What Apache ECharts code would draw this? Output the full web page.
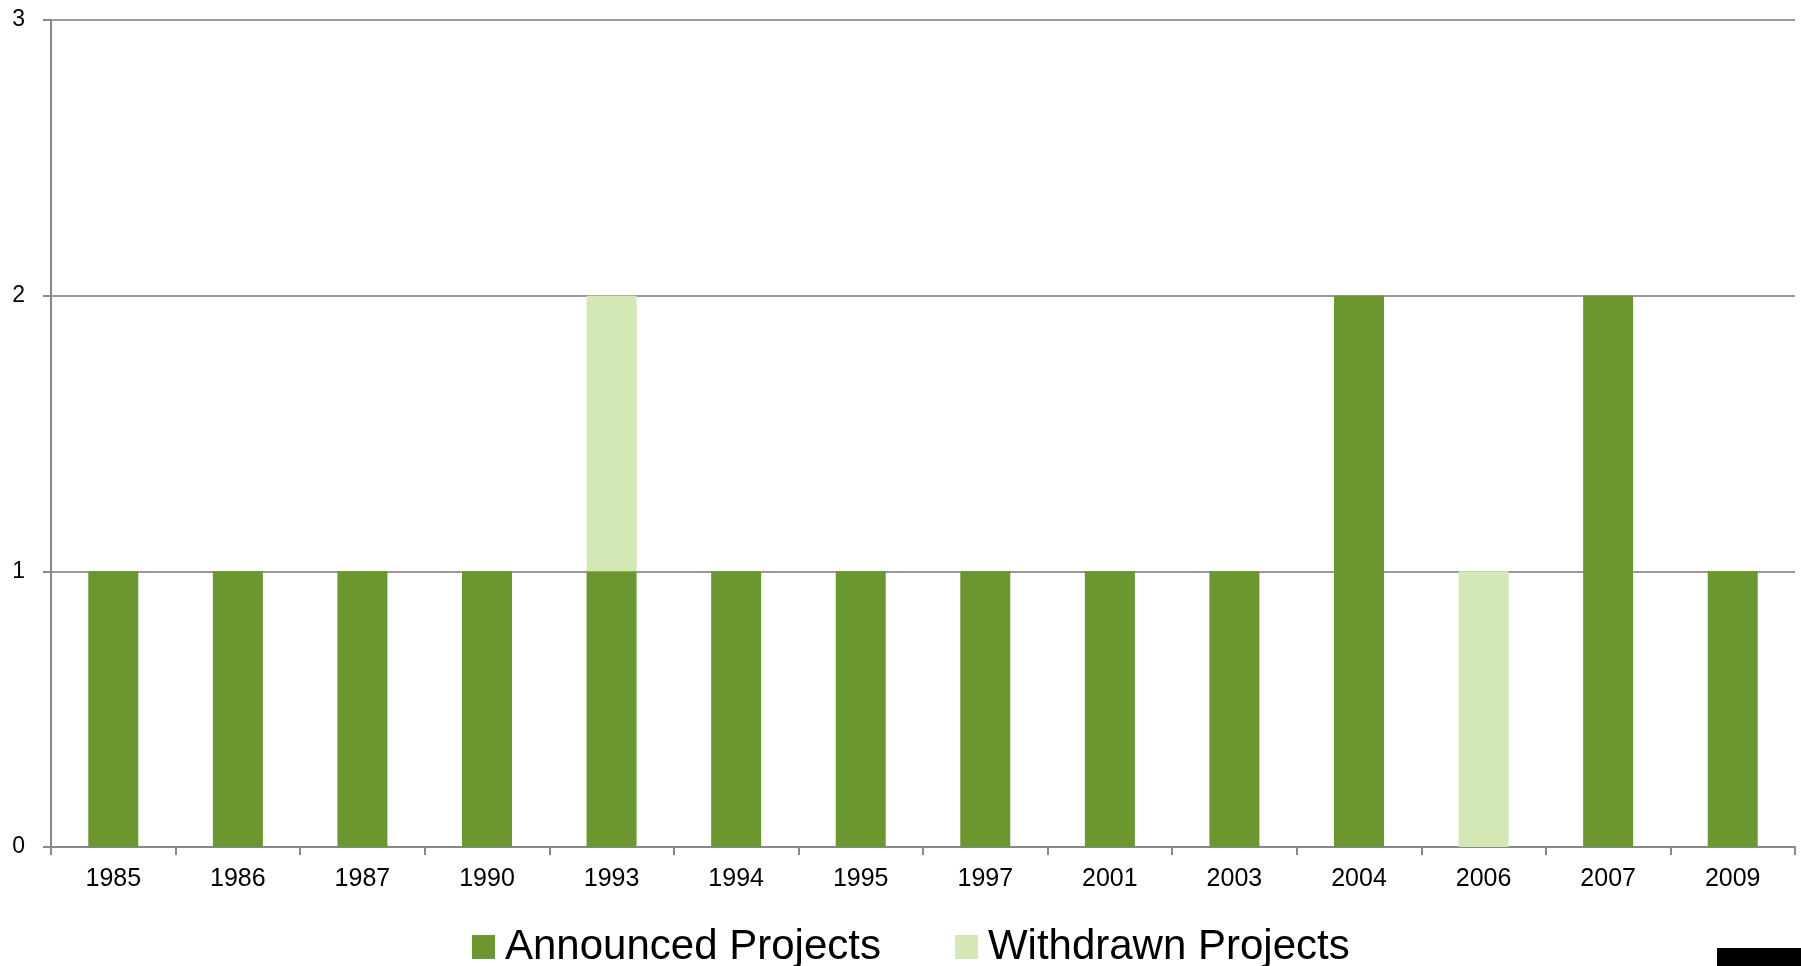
<!DOCTYPE html>
<html><head><meta charset="utf-8">
<script src="https://cdn.jsdelivr.net/npm/echarts@6/dist/echarts.min.js"></script>
<style>html,body{margin:0;padding:0;background:#fff}#c{width:1801px;height:966px}</style>
</head><body><div id="c"></div>
<script>
const years = ['1985','1986','1987','1990','1993','1994','1995','1997','2001','2003','2004','2006','2007','2009'];
const announced = [1,1,1,1,1,1,1,1,1,1,2,0,2,1];
const withdrawn = [0,0,0,0,1,0,0,0,0,0,0,1,0,0];
const yTicks = [0,1,2,3];

const chart = echarts.init(document.getElementById('c'));
chart.setOption({
  animation: false,
  grid: {left: 51, top: 20, right: 6, bottom: 119, containLabel: false, outerBoundsMode: 'none'},
  legend: {
    top: 921, left: 467,
    itemWidth: 23, itemHeight: 24, itemGap: 74,
    icon: 'rect',
    textStyle: {fontFamily: 'Liberation Sans', fontSize: 42, color: '#000', padding: [0,0,0,5]},
    data: ['Announced Projects', 'Withdrawn Projects']
  },
  xAxis: {
    type: 'category', data: years,
    axisLine: {lineStyle: {color: '#888', width: 2}},
    axisTick: {show: true, length: 8, lineStyle: {color: '#888', width: 2}},
    axisLabel: {fontFamily: 'Liberation Sans', fontSize: 25, color: '#000', margin: 20}
  },
  yAxis: {
    type: 'value', min: yTicks[0], max: yTicks[yTicks.length-1], interval: 1,
    axisLine: {show: true, lineStyle: {color: '#888', width: 2}},
    axisTick: {show: true, length: 8, lineStyle: {color: '#888', width: 2}},
    splitLine: {lineStyle: {color: '#999', width: 2}},
    axisLabel: {fontFamily: 'Liberation Sans', fontSize: 23, color: '#000', margin: 26}
  },
  series: [
    {name: 'Announced Projects', type: 'bar', stack: 's', data: announced, barWidth: 50, itemStyle: {color: '#6a972e'}},
    {name: 'Withdrawn Projects', type: 'bar', stack: 's', data: withdrawn, barWidth: 50, itemStyle: {color: '#d3e8b5'}}
  ],
  graphic: [{type: 'rect', right: 0, bottom: 0, shape: {width: 84, height: 18}, style: {fill: '#000'}}]
});
</script></body></html>
